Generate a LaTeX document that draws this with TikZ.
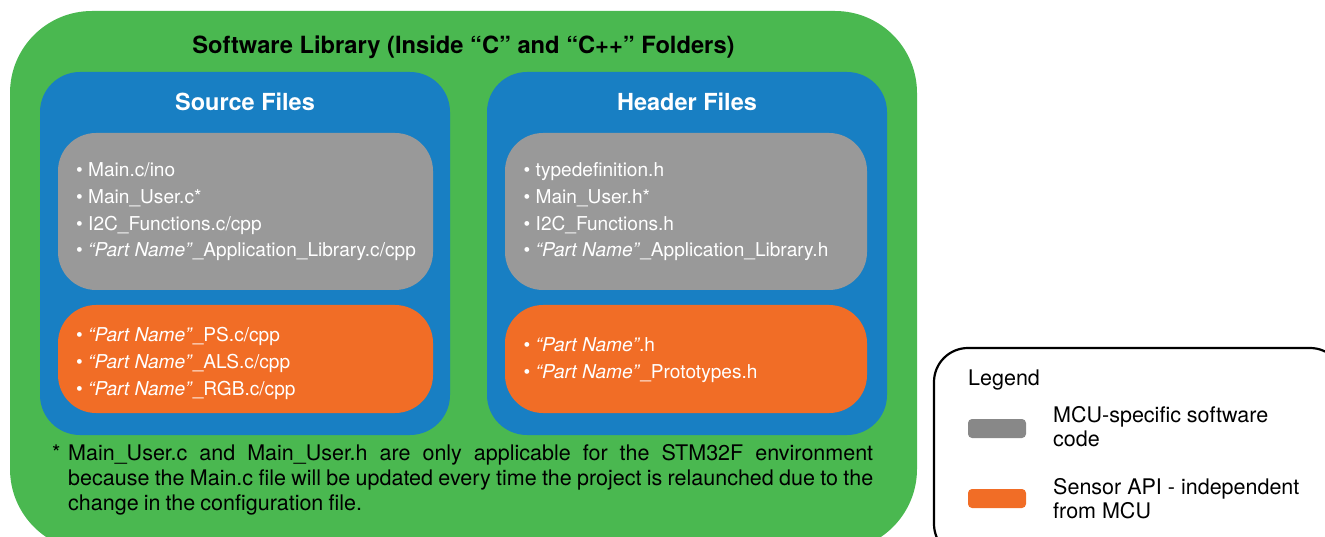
\documentclass[tikz,border=0pt]{standalone}
\usepackage{fontspec}
\setmainfont{TeX Gyre Heros}
\newfontfamily\notefont{TeX Gyre Heros}[WordSpace={0.85,1,1}]
\definecolor{libgreen}{RGB}{74,184,80}
\definecolor{folderblue}{RGB}{24,127,195}
\definecolor{mcugray}{RGB}{153,153,153}
\definecolor{apiorange}{RGB}{241,109,38}
\definecolor{swatchgray}{RGB}{136,136,136}
\begin{document}
\begin{tikzpicture}[x=1pt,y=-1pt,
  panel/.style={inner sep=0pt, outer sep=0pt, draw=none},
  maintitle/.style={inner sep=0pt, anchor=base, font=\fontsize{23.7}{28}\selectfont\bfseries},
  boxtitle/.style={inner sep=0pt, anchor=base, text=white, font=\fontsize{23.5}{28}\selectfont\bfseries},
  item/.style={inner sep=0pt, anchor=base west, text=white, font=\fontsize{19.1}{22}\selectfont},
  legtext/.style={inner sep=0pt, anchor=base west, font=\fontsize{21.5}{25}\selectfont},
  swatch/.style={inner sep=0pt, outer sep=0pt, rounded corners=4pt, minimum width=58pt, minimum height=19pt}
]
\useasboundingbox (0,0) rectangle (1325,537);
\clip (0,0) rectangle (1325,537);

% outer library panel
\node[panel, fill=libgreen, rounded corners=82pt, minimum width=907pt, minimum height=540pt] (lib) at (463.5,281) {};
\node[maintitle] (libtitle) at (463.5,53.3) {Software Library (Inside “C” and “C++” Folders)};

% folder panels
\node[panel, fill=folderblue, rounded corners=40pt, minimum width=410pt, minimum height=363pt] (src) at (245,253.5) {};
\node[panel, fill=folderblue, rounded corners=40pt, minimum width=400pt, minimum height=363pt] (hdr) at (687,253.5) {};
\node[boxtitle] (srctitle) at (245,110.7) {Source Files};
\node[boxtitle] (hdrtitle) at (687,110.7) {Header Files};

% MCU-specific groups
\node[panel, fill=mcugray, rounded corners=38pt, minimum width=375pt, minimum height=157pt] (srcmcu) at (245.5,211.5) {};
\node[panel, fill=mcugray, rounded corners=38pt, minimum width=362pt, minimum height=157pt] (hdrmcu) at (686,211.5) {};

% sensor API groups
\node[panel, fill=apiorange, rounded corners=38pt, minimum width=375pt, minimum height=108pt] (srcapi) at (245.5,359) {};
\node[panel, fill=apiorange, rounded corners=38pt, minimum width=362pt, minimum height=108pt] (hdrapi) at (686,359) {};

% source file list
\node[item] (s1) at (76,176.7) {\textbullet\ Main.c/ino};
\node[item] (s2) at (76,203.4) {\textbullet\ Main\_User.c*};
\node[item] (s3) at (76,230.1) {\textbullet\ I2C\_Functions.c/cpp};
\node[item] (s4) at (76,256.8) {\textbullet\ \textit{“Part Name”}\_Application\_Library.c/cpp};
\node[item] (s5) at (76,341.7) {\textbullet\ \textit{“Part Name”}\_PS.c/cpp};
\node[item] (s6) at (76,368.4) {\textbullet\ \textit{“Part Name”}\_ALS.c/cpp};
\node[item] (s7) at (76,395.1) {\textbullet\ \textit{“Part Name”}\_RGB.c/cpp};

% header file list
\node[item] (h1) at (523.5,176.7) {\textbullet\ typedefinition.h};
\node[item] (h2) at (523.5,203.4) {\textbullet\ Main\_User.h*};
\node[item] (h3) at (523.5,230.1) {\textbullet\ I2C\_Functions.h};
\node[item] (h4) at (523.5,256.8) {\textbullet\ \textit{“Part Name”}\_Application\_Library.h};
\node[item] (h5) at (523.5,351.7) {\textbullet\ \textit{“Part Name”}.h};
\node[item] (h6) at (523.5,378.4) {\textbullet\ \textit{“Part Name”}\_Prototypes.h};

% footnote
\node[inner sep=0pt, anchor=base west, font=\fontsize{21.5}{25.3}\selectfont] (star) at (52,460) {*};
\node[inner sep=0pt, anchor=base west] (note) at (68,460) {\parbox[t]{805pt}{\notefont\fontsize{21.5}{25.3}\selectfont
  \hyphenpenalty=10000\exhyphenpenalty=10000
  Main\_User.c and Main\_User.h are only applicable for the STM32F environment\linebreak
  because the Main.c file will be updated every time the project is relaunched due to the\linebreak
  change in the configuration file.}};

% legend
\node[panel, draw=black, line width=2.2pt, rounded corners=34pt, minimum width=410pt, minimum height=210pt, anchor=north west] (legend) at (934,348) {};
\node[legtext] (legtitle) at (968,385.5) {Legend};
\node[swatch, fill=swatchgray] (keymcu) at (997,428.5) {};
\node[swatch, fill=apiorange] (keyapi) at (997,498.5) {};
\node[legtext] (keymcu1) at (1053,422.5) {MCU-specific software};
\node[legtext] (keymcu2) at (1053,446.5) {code};
\node[legtext] (keyapi1) at (1053,494.5) {Sensor API - independent};
\node[legtext] (keyapi2) at (1053,518.5) {from MCU};
\end{tikzpicture}
\end{document}
